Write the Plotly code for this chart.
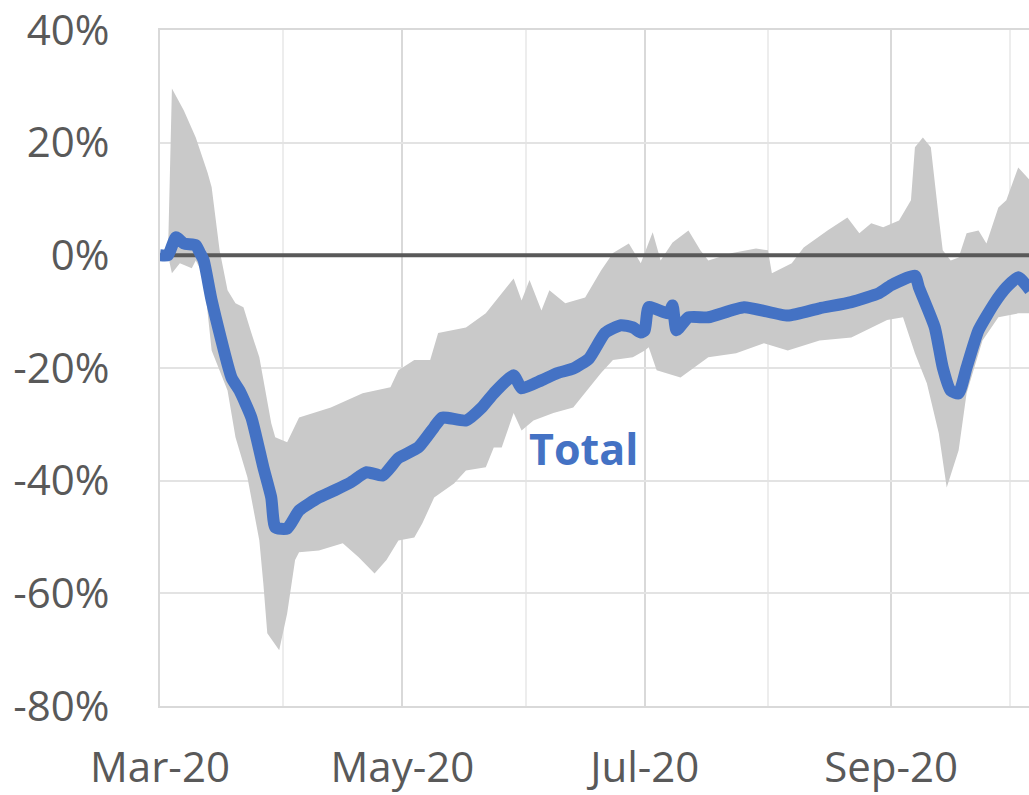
import plotly.graph_objects as go

# ---- data (percent change) ----
median_dates = [
    "2020-03-01", "2020-03-03", "2020-03-05", "2020-03-07", "2020-03-10", "2020-03-11",
    "2020-03-12", "2020-03-14", "2020-03-19", "2020-03-21", "2020-03-24", "2020-03-27",
    "2020-03-29", "2020-03-30", "2020-04-02", "2020-04-05", "2020-04-10", "2020-04-14",
    "2020-04-18", "2020-04-22", "2020-04-26", "2020-04-30", "2020-05-05", "2020-05-09",
    "2020-05-11", "2020-05-17", "2020-05-21", "2020-05-24", "2020-05-29", "2020-05-31",
    "2020-06-05", "2020-06-09", "2020-06-13", "2020-06-17", "2020-06-21", "2020-06-25",
    "2020-06-28", "2020-06-30", "2020-07-01", "2020-07-02", "2020-07-07", "2020-07-08",
    "2020-07-09", "2020-07-12", "2020-07-17", "2020-07-26", "2020-08-06", "2020-08-14",
    "2020-08-22", "2020-08-29", "2020-09-01", "2020-09-07", "2020-09-08", "2020-09-12",
    "2020-09-14", "2020-09-16", "2020-09-18", "2020-09-20", "2020-09-23", "2020-09-27",
    "2020-09-30", "2020-10-03", "2020-10-06",
]
median_pct = [
    0.0, 0.0, 3.2, 2.1, 1.8, 0.5,
    -0.9, -8.0, -21.7, -24.0, -28.8, -37.6,
    -43.0, -48.3, -48.5, -45.3, -43.0, -41.7,
    -40.3, -38.5, -39.1, -36.0, -34.1, -30.5,
    -28.8, -29.3, -27.0, -24.5, -21.3, -23.6,
    -22.2, -20.9, -20.1, -18.3, -13.8, -12.4,
    -12.8, -13.7, -13.3, -9.2, -10.3, -8.9,
    -13.3, -11.0, -11.0, -9.2, -10.7, -9.4,
    -8.3, -6.7, -5.3, -3.6, -5.7, -12.8,
    -19.9, -24.0, -24.5, -19.9, -13.3, -8.5,
    -5.7, -3.9, -6.2,
]

upper_dates = [
    "2020-03-03", "2020-03-04", "2020-03-07", "2020-03-10", "2020-03-13", "2020-03-14",
    "2020-03-16", "2020-03-18", "2020-03-20", "2020-03-22", "2020-03-24", "2020-03-26",
    "2020-03-29", "2020-03-30", "2020-04-02", "2020-04-05", "2020-04-13", "2020-04-21",
    "2020-04-28", "2020-04-30", "2020-05-04", "2020-05-08", "2020-05-10", "2020-05-17",
    "2020-05-22", "2020-05-26", "2020-05-29", "2020-05-31", "2020-06-02", "2020-06-05",
    "2020-06-07", "2020-06-11", "2020-06-16", "2020-06-20", "2020-06-23", "2020-06-27",
    "2020-06-30", "2020-07-03", "2020-07-05", "2020-07-08", "2020-07-12", "2020-07-15",
    "2020-07-17", "2020-07-23", "2020-07-29", "2020-08-01", "2020-08-02", "2020-08-07",
    "2020-08-10", "2020-08-16", "2020-08-21", "2020-08-24", "2020-08-27", "2020-08-30",
    "2020-09-03", "2020-09-06", "2020-09-07", "2020-09-09", "2020-09-11", "2020-09-13",
    "2020-09-14", "2020-09-16", "2020-09-18", "2020-09-20", "2020-09-23", "2020-09-25",
    "2020-09-28", "2020-09-30", "2020-10-03", "2020-10-06",
]
upper_pct = [
    0.0, 29.6, 25.7, 20.9, 14.6, 12.1,
    0.9, -6.2, -8.5, -9.2, -13.8, -18.1,
    -29.8, -32.3, -33.2, -28.8, -27.0, -24.5,
    -23.4, -20.4, -18.6, -18.6, -13.8, -12.8,
    -10.3, -6.7, -4.1, -8.0, -4.4, -9.8,
    -6.2, -8.5, -7.5, -2.7, 0.4, 2.1,
    -1.4, 4.1, -0.9, 2.3, 4.4, 0.9,
    -0.9, 0.4, 1.2, 0.9, -3.2, -1.4,
    1.4, 4.4, 6.7, 3.9, 5.7, 5.0,
    6.2, 9.8, 19.2, 20.9, 19.2, 6.7,
    0.9, -0.9, -0.4, 3.9, 4.4, 2.1,
    8.5, 9.8, 15.6, 13.3,
]

lower_dates = [
    "2020-03-03", "2020-03-04", "2020-03-06", "2020-03-09", "2020-03-10", "2020-03-12",
    "2020-03-14", "2020-03-18", "2020-03-20", "2020-03-23", "2020-03-26", "2020-03-27",
    "2020-03-28", "2020-03-31", "2020-04-02", "2020-04-04", "2020-04-05", "2020-04-10",
    "2020-04-16", "2020-04-20", "2020-04-24", "2020-04-27", "2020-04-30", "2020-05-04",
    "2020-05-06", "2020-05-09", "2020-05-14", "2020-05-17", "2020-05-22", "2020-05-24",
    "2020-05-26", "2020-05-29", "2020-05-31", "2020-06-03", "2020-06-08", "2020-06-13",
    "2020-06-20", "2020-06-23", "2020-06-28", "2020-07-01", "2020-07-02", "2020-07-04",
    "2020-07-10", "2020-07-17", "2020-07-24", "2020-07-31", "2020-08-06", "2020-08-14",
    "2020-08-22", "2020-08-31", "2020-09-04", "2020-09-07", "2020-09-10", "2020-09-13",
    "2020-09-15", "2020-09-18", "2020-09-20", "2020-09-24", "2020-09-28", "2020-10-03",
    "2020-10-06",
]
lower_pct = [
    0.0, -3.2, -1.4, -2.3, -0.9, -3.6,
    -16.9, -24.0, -32.3, -39.4, -50.6, -58.2,
    -67.1, -70.1, -63.6, -54.1, -52.7, -52.4,
    -51.1, -53.6, -56.5, -54.1, -50.6, -50.1,
    -47.6, -43.0, -40.5, -38.2, -37.6, -34.1,
    -34.1, -28.0, -31.1, -29.3, -28.0, -27.0,
    -20.9, -18.6, -18.1, -16.9, -16.3, -20.4,
    -21.7, -18.1, -17.4, -15.6, -16.9, -15.1,
    -14.6, -11.5, -11.0, -17.4, -22.7, -31.6,
    -41.2, -34.6, -24.5, -15.1, -11.0, -10.3,
    -10.3,
]

y_tick_vals = [-80, -60, -40, -20, 0, 20, 40]
y_tick_text = [f"{v}%" for v in y_tick_vals]

X_START = "2020-03-01"
X_END = "2020-10-05 17:00"
Y_MIN, Y_MAX = -80, 40

LABEL_TEXT = "Total"
LABEL_X = "2020-06-15 12:00"
LABEL_Y = -34.3

BLUE = "#4472C4"
BAND = "#C9C9C9"
TEXT = "#595959"
FONT = "Open Sans"

fig = go.Figure()

# shaded range band
fig.add_trace(go.Scatter(
    x=upper_dates + lower_dates[::-1],
    y=upper_pct + lower_pct[::-1],
    mode="lines", fill="toself", fillcolor=BAND,
    line=dict(width=0, color=BAND), hoverinfo="skip", showlegend=False,
))

# zero reference line (above band, below median line)
fig.add_trace(go.Scatter(
    x=[X_START, X_END], y=[0, 0], mode="lines",
    line=dict(color=TEXT, width=4), hoverinfo="skip", showlegend=False,
))

# median line
fig.add_trace(go.Scatter(
    x=median_dates, y=median_pct, mode="lines",
    line=dict(color=BLUE, width=12, shape="spline", smoothing=0.5),
    showlegend=False, name="Total",
))

fig.add_annotation(
    x=LABEL_X, y=LABEL_Y, text=f"<b>{LABEL_TEXT}</b>", showarrow=False,
    font=dict(family=FONT, size=43, color=BLUE), xanchor="center", yanchor="middle",
)

fig.update_layout(
    width=1029, height=795, autosize=False,
    margin=dict(l=160, r=0, t=30, b=89, pad=0, autoexpand=False),
    paper_bgcolor="white", plot_bgcolor="white",
    font=dict(family=FONT, size=42, color=TEXT),
    showlegend=False,
)

fig.update_xaxes(
    range=[X_START, X_END], type="date",
    dtick="M2", tick0="2020-03-01", tickformat="%b-%y",
    showgrid=True, gridcolor="#D9D9D9", gridwidth=2,
    minor=dict(dtick="M1", tick0="2020-03-01", showgrid=True, gridcolor="#EDEDED", gridwidth=2),
    showline=True, linecolor="#D9D9D9", linewidth=2, mirror=True,
    ticks="", ticklabelstandoff=24, automargin=False, ticklabeloverflow="allow",
    tickfont=dict(family=FONT, size=42, color=TEXT),
    zeroline=False,
)
fig.update_yaxes(
    range=[Y_MIN, Y_MAX], tickvals=y_tick_vals, ticktext=y_tick_text,
    showgrid=True, gridcolor="#E3E3E3", gridwidth=2,
    showline=True, linecolor="#D9D9D9", linewidth=2,
    ticks="", ticklabelstandoff=40, automargin=False, ticklabeloverflow="allow",
    tickfont=dict(family=FONT, size=42, color=TEXT),
    zeroline=False,
)

# remove the default 8px page margin so the figure fills the window exactly
fig.write_html(
    "out.html",
    config={"displayModeBar": False},
    post_script="document.body.style.margin='0';document.body.style.overflow='hidden';",
)
